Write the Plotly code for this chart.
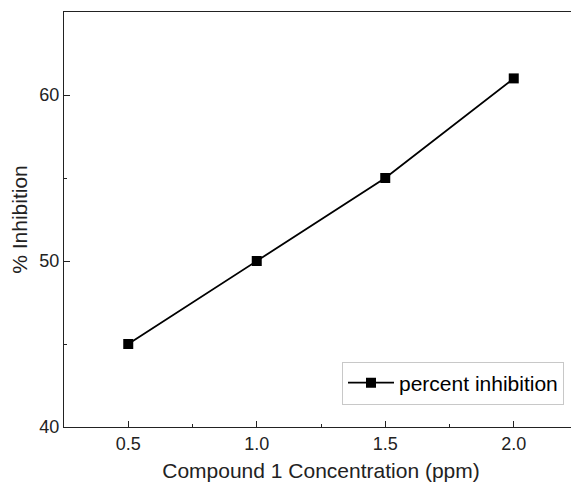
import plotly.graph_objects as go

concentration = [0.5, 1.0, 1.5, 2.0]
inhibition = [45, 50, 55, 61]
series_name = "percent inhibition"

FONT = "Liberation Sans, Arial"

fig = go.Figure()
fig.add_trace(go.Scatter(
    x=concentration, y=inhibition, mode="lines+markers", name=series_name,
    line=dict(color="black", width=1.8),
    marker=dict(symbol="square", size=10, color="black"),
))

axis_common = dict(
    showline=True, linecolor="#222", linewidth=1.4, mirror=True,
    ticks="inside", ticklen=6, tickcolor="#222", tickwidth=1.4,
    showgrid=False, zeroline=False,
    tickfont=dict(family=FONT, size=18, color="#222"),
    minor=dict(ticks="inside", ticklen=3, tickcolor="#222", tickwidth=1.2),
)

fig.update_xaxes(
    range=[0.25, 2.25], tickvals=[0.5, 1.0, 1.5, 2.0], ticktext=["0.5", "1.0", "1.5", "2.0"],
    title=dict(text="Compound 1 Concentration (ppm)", font=dict(family=FONT, size=21, color="#222"), standoff=10),
    **axis_common,
)
fig.update_xaxes(minor=dict(tickvals=[0.75, 1.25, 1.75, 2.25]))
fig.update_yaxes(
    range=[40, 65], tickvals=[40, 50, 60], ticktext=["40", "50", "60"],
    title=dict(text="% Inhibition", font=dict(family=FONT, size=21, color="#222"), standoff=8),
    **axis_common,
)
fig.update_yaxes(minor=dict(tickvals=[45, 55, 65]))

# page body has an 8px margin; compensate so the plot sits where the reference has it
fig.update_layout(
    width=571, height=478,
    margin=dict(l=56, r=1, t=4, b=59),
    plot_bgcolor="white", paper_bgcolor="white",
    showlegend=True,
    legend=dict(
        x=(342 - 64) / 514, y=(427 - 383) / 415, xanchor="left", yanchor="middle",
        bordercolor="#c8c8c8", borderwidth=1, bgcolor="white",
        font=dict(family=FONT, size=21, color="black"),
        itemwidth=46,
    ),
)

fig.write_html("out.html")
